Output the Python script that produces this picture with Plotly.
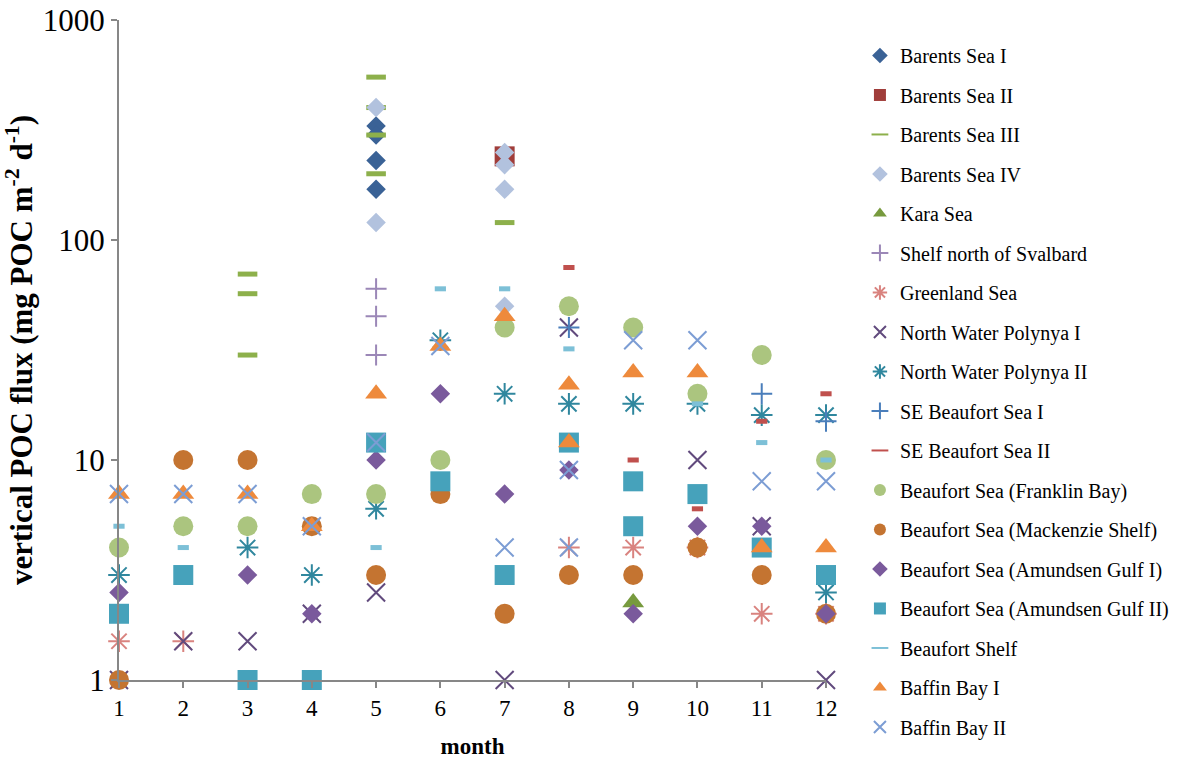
import plotly.graph_objects as go

# Monthly vertical POC flux observations (mg POC m-2 d-1) by region
barents_i_m = [5, 5, 5, 5]
barents_i_v = [330, 300, 230, 170]

barents_ii_m = [7]
barents_ii_v = [240]

barents_iii_m = [3, 3, 3, 5, 5, 5, 5, 7]
barents_iii_v = [70, 57, 30, 550, 400, 300, 200, 120]

barents_iv_m = [5, 5, 7, 7, 7, 7]
barents_iv_v = [400, 120, 250, 220, 170, 50]

kara_m = [9]
kara_v = [2.25]

svalbard_m = [5, 5, 5]
svalbard_v = [60, 45, 30]

greenland_m = [1, 2, 8, 9, 10, 11, 12]
greenland_v = [1.5, 1.5, 4, 4, 4, 2, 2]

nwp_i_m = [1, 2, 3, 4, 5, 7, 8, 10, 11, 12]
nwp_i_v = [1, 1.5, 1.5, 2, 2.5, 1, 40, 10, 5, 1]

nwp_ii_m = [1, 3, 4, 5, 6, 7, 8, 9, 10, 11, 12, 12]
nwp_ii_v = [3, 4, 3, 6, 35, 20, 18, 18, 18, 16, 16, 2.5]

se_beaufort_i_m = [8, 11, 12]
se_beaufort_i_v = [40, 20, 15]

se_beaufort_ii_m = [8, 9, 10, 11, 12]
se_beaufort_ii_v = [75, 10, 6, 15, 20]

franklin_m = [1, 2, 3, 4, 5, 6, 7, 8, 9, 10, 11, 12]
franklin_v = [4, 5, 5, 7, 7, 10, 40, 50, 40, 20, 30, 10]

mackenzie_m = [1, 2, 3, 4, 5, 6, 7, 8, 9, 10, 11, 12]
mackenzie_v = [1, 10, 10, 5, 3, 7, 2, 3, 3, 4, 3, 2]

amundsen_i_m = [1, 3, 4, 5, 6, 7, 8, 9, 10, 11, 12]
amundsen_i_v = [2.5, 3, 2, 10, 20, 7, 9, 2, 5, 5, 2]

amundsen_ii_m = [1, 2, 3, 4, 5, 6, 7, 8, 9, 9, 10, 11, 12]
amundsen_ii_v = [2, 3, 1, 1, 12, 8, 3, 12, 8, 5, 7, 4, 3]

beaufort_shelf_m = [1, 2, 5, 6, 7, 8, 9, 10, 11, 12]
beaufort_shelf_v = [5, 4, 4, 60, 60, 32, 25, 18, 12, 10]

baffin_i_m = [1, 2, 3, 4, 5, 6, 7, 8, 8, 9, 10, 11, 12]
baffin_i_v = [7, 7, 7, 5, 20, 33, 45, 22, 12, 25, 25, 4, 4]

baffin_ii_m = [1, 2, 3, 4, 5, 6, 7, 8, 8, 9, 10, 11, 12]
baffin_ii_v = [7, 7, 7, 5, 12, 33, 4, 9, 4, 35, 35, 8, 8]

month_ticks = list(range(1, 13))
flux_ticks = [1, 10, 100, 1000]

FONT = "Liberation Serif"

# name, months, values, symbol, colour, size, line width
series = [
    ("Barents Sea I", barents_i_m, barents_i_v, "diamond", "#3A6296", 15, 0),
    ("Barents Sea II", barents_ii_m, barents_ii_v, "square", "#A03D3A", 20, 0),
    ("Barents Sea III", barents_iii_m, barents_iii_v, "line-ew-open", "#8DB04B", 14, 5),
    ("Barents Sea IV", barents_iv_m, barents_iv_v, "diamond", "#B2C2DE", 15, 0),
    ("Kara Sea", kara_m, kara_v, "triangle-up", "#779A3E", 19, 0),
    ("Shelf north of Svalbard", svalbard_m, svalbard_v, "cross-thin-open", "#9B87B7", 15, 2),
    ("Greenland Sea", greenland_m, greenland_v, "asterisk-open", "#D9837F", 18, 2),
    ("North Water Polynya I", nwp_i_m, nwp_i_v, "x-thin-open", "#614A7D", 18, 2),
    ("North Water Polynya II", nwp_ii_m, nwp_ii_v, "asterisk-open", "#30879E", 18, 2),
    ("SE Beaufort Sea I", se_beaufort_i_m, se_beaufort_i_v, "cross-thin-open", "#4A7EBB", 15, 2),
    ("SE Beaufort Sea II", se_beaufort_ii_m, se_beaufort_ii_v, "line-ew-open", "#C0504D", 8, 5),
    ("Beaufort Sea (Franklin Bay)", franklin_m, franklin_v, "circle", "#ABC57F", 20, 0),
    ("Beaufort Sea (Mackenzie Shelf)", mackenzie_m, mackenzie_v, "circle", "#C47431", 20, 0),
    ("Beaufort Sea (Amundsen Gulf I)", amundsen_i_m, amundsen_i_v, "diamond", "#7A5A9C", 15, 0),
    ("Beaufort Sea (Amundsen Gulf II)", amundsen_ii_m, amundsen_ii_v, "square", "#46A2BB", 20, 0),
    ("Beaufort Shelf", beaufort_shelf_m, beaufort_shelf_v, "line-ew-open", "#7DC0D7", 8, 5),
    ("Baffin Bay I", baffin_i_m, baffin_i_v, "triangle-up", "#EE8A3C", 19, 0),
    ("Baffin Bay II", baffin_ii_m, baffin_ii_v, "x-thin-open", "#7C9DD4", 18, 2),
]

fig = go.Figure()
for i, (name, xs, ys, sym, col, size, lw) in enumerate(series):
    fig.add_trace(go.Scatter(
        x=xs, y=ys, mode="markers", name=name,
        legendgroup=f"g{i}",
        cliponaxis=False,
        marker=dict(symbol=sym, color=col, size=size,
                    line=dict(color=col, width=lw)),
    ))

axis_col = "#878787"
H = 762
M_TOP, M_BOT = 10, 10
inner_h = H - M_TOP - M_BOT
# vertical axis spans y = 20 px (top) to y = 680 px (bottom) of the page
y_domain = [(H - M_BOT - 680) / inner_h, (H - M_BOT - 20) / inner_h]

fig.update_layout(
    width=1187, height=H,
    margin=dict(l=119, r=361, t=M_TOP, b=M_BOT),
    plot_bgcolor="white", paper_bgcolor="white",
    font=dict(family=FONT, color="black"),
    xaxis=dict(
        range=[1, 12], tickmode="array", tickvals=month_ticks,
        ticks="outside", ticklen=6, tickwidth=2, tickcolor=axis_col,
        showline=True, linecolor=axis_col, linewidth=2,
        showgrid=False, zeroline=False, anchor="y", automargin=False,
        tickfont=dict(size=23, family=FONT),
        title=dict(text="<b>month</b>", font=dict(size=23, family=FONT), standoff=18),
    ),
    yaxis=dict(
        type="log", range=[0, 3], domain=y_domain, automargin=False,
        tickmode="array", tickvals=flux_ticks,
        ticktext=[str(v) for v in flux_ticks],
        ticks="outside", ticklen=6, tickwidth=2, tickcolor=axis_col,
        showline=True, linecolor=axis_col, linewidth=2,
        showgrid=False, zeroline=False,
        tickfont=dict(size=31, family=FONT),
        title=dict(text="<b>vertical POC flux (mg POC m<sup>-2</sup> d<sup>-1</sup>)</b>",
                   font=dict(size=31, family=FONT), standoff=8),
    ),
    legend=dict(
        x=1.048, xanchor="left", y=0.965, yanchor="top",
        font=dict(size=20, family=FONT),
        tracegroupgap=10.5, itemsizing="constant",
        bgcolor="rgba(0,0,0,0)",
    ),
)

fig.write_html("out.html")
